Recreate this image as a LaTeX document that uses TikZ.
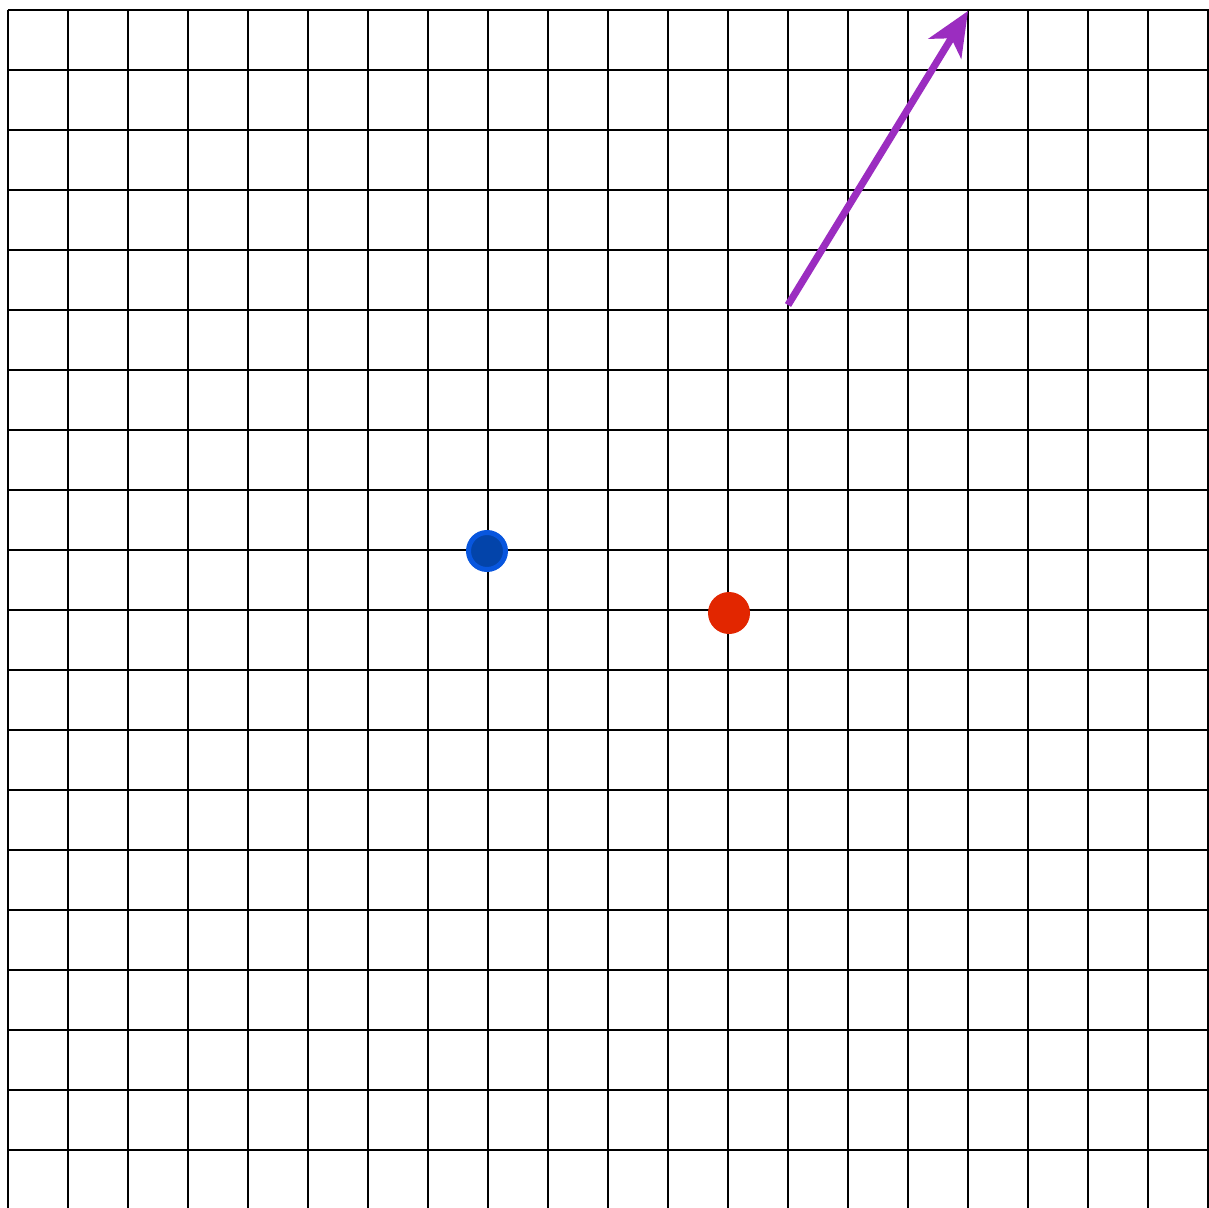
\documentclass[tikz,border=0pt]{standalone}
\usetikzlibrary{arrows.meta}
\definecolor{dotblue}{RGB}{3,68,170}
\definecolor{dotblueedge}{RGB}{8,86,222}
\definecolor{dotred}{RGB}{226,38,0}
\definecolor{arrowpurple}{RGB}{155,45,192}
\begin{document}
\begin{tikzpicture}[x=0.5pt,y=-0.5pt,
  gridline/.style={black,line width=1.1pt},
  dotnode/.style={circle,inner sep=0pt,minimum size=37},
  vec/.style={arrowpurple,line width=3.6pt,-{Stealth[length=22pt,width=19pt,inset=6pt]}}]
\useasboundingbox (0,0) rectangle (1209,1208);
\fill[white] (0,0) rectangle (1209,1208);
\foreach \k in {0,...,20} {
  \draw[gridline] ({8+60*\k},10) -- ({8+60*\k},1210);
}
\foreach \k in {0,...,19} {
  \draw[gridline] (7.5,{10+60*\k}) -- (1210,{10+60*\k});
}
\node[dotnode,fill=dotblue,draw=dotblueedge,line width=2.5pt,minimum size=18.5pt] (blue) at (487,551) {};
\node[dotnode,fill=dotred,minimum size=21pt] (red) at (729,613) {};
\coordinate (vstart) at (788,305);
\coordinate (vend) at (968,11);
\draw[vec] (vstart) -- (vend);
\end{tikzpicture}
\end{document}
